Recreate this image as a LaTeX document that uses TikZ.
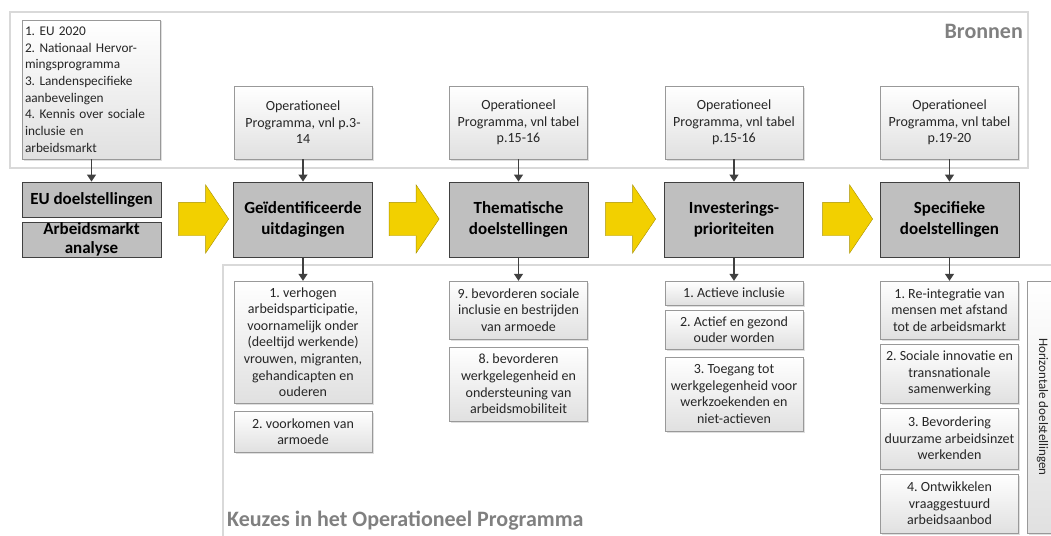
\documentclass[tikz,border=0pt]{standalone}
\usepackage{fontspec}
\setmainfont{Carlito}
\frenchspacing
\usetikzlibrary{arrows.meta,shapes.arrows,shadows}
\definecolor{pijlgeel}{HTML}{F2D000}
\definecolor{pijlrand}{HTML}{A89000}
\begin{document}
\begin{tikzpicture}[x=1pt,y=-1pt,
    bron/.style={draw=black!40, top color=white, bottom color=black!12,
      drop shadow={shadow xshift=1.5pt, shadow yshift=-1.5pt, opacity=.25},
      align=center, inner sep=0pt, minimum width=138pt, text=black!85,
      font=\fontsize{14}{16.6}\selectfont},
    hoofd/.style={draw=black!75, fill=black!25, line width=.8pt, align=center,
      inner sep=0pt, minimum width=139pt, font=\fontsize{17}{20.5}\selectfont\bfseries},
    pijl/.style={single arrow, draw=pijlrand, fill=pijlgeel, inner xsep=0pt, inner ysep=16.5pt,
      minimum height=50pt, single arrow head extend=17.5pt,
      single arrow tip angle=112},
    lijn/.style={draw=black!75, line width=1.2pt, -{Triangle[length=7pt,width=9pt]}},
    kader/.style={draw=black!15, line width=1.5pt},
    titel/.style={text=black!50, inner sep=0pt, font=\fontsize{22}{26}\selectfont\bfseries}]
  \useasboundingbox (0,0) rectangle (1051,535);
  \clip (0,0) rectangle (1051,535);

  % kaders
  \draw[kader] (10,12) rectangle (1028,168);
  \draw[kader] (223,265) rectangle (1070,550);
  \node[titel,anchor=east] (T0) at (1023,31) {Bronnen};
  \node[titel,anchor=west] (T1) at (227,521) {Keuzes in het Operationeel Programma};

  % bronnen
  \node[bron,align=left,text width=133pt,inner xsep=2.5pt,minimum height=139pt,
    font=\fontsize{13.3}{16.7}\selectfont] (S0) at (91.5,89.5)
    {1. EU 2020\\2. Nationaal Hervor-\\mingsprogramma\\3. Landenspecifieke\\aanbevelingen\\4. Kennis over sociale\\inclusie en\\arbeidsmarkt};
  \node[bron,minimum height=73pt] (S1) at (303,122.5) {Operationeel\\Programma, vnl p.3-\\14};
  \node[bron,minimum height=73pt] (S2) at (518.5,122.5) {Operationeel\\Programma, vnl tabel\\p.15-16};
  \node[bron,minimum height=73pt] (S3) at (734,122.5) {Operationeel\\Programma, vnl tabel\\p.15-16};
  \node[bron,minimum height=73pt] (S4) at (949.5,122.5) {Operationeel\\Programma, vnl tabel\\p.19-20};

  % hoofdlijn
  \node[hoofd,minimum height=35pt] (M0) at (91.5,199.5) {EU doelstellingen};
  \node[hoofd,minimum height=35pt,font=\fontsize{17}{18.5}\selectfont\bfseries] (M0b) at (91.5,239.5) {Arbeidsmarkt\\analyse};
  \node[hoofd,minimum height=75pt] (M1) at (303,219.5) {Geïdentificeerde\\uitdagingen};
  \node[hoofd,minimum height=75pt] (M2) at (518.5,219.5) {Thematische\\doelstellingen};
  \node[hoofd,minimum height=75pt] (M3) at (734,219.5) {Investerings-\\prioriteiten};
  \node[hoofd,minimum height=75pt] (M4) at (949.5,219.5) {Specifieke\\doelstellingen};

  \node[pijl] (P1) at (198,219) {};
  \node[pijl] (P2) at (408.5,219) {};
  \node[pijl] (P3) at (625,219) {};
  \node[pijl] (P4) at (842,219) {};

  % keuzes
  \node[bron,minimum height=122pt] (K1) at (303,342) {1. verhogen\\arbeidsparticipatie,\\voornamelijk onder\\(deeltijd werkende)\\vrouwen, migranten,\\gehandicapten en\\ouderen};
  \node[bron,minimum height=41pt] (K1b) at (303,431.5) {2. voorkomen van\\armoede};
  \node[bron,minimum height=58pt] (K2) at (518.5,310) {9. bevorderen sociale\\inclusie en bestrijden\\van armoede};
  \node[bron,minimum height=74pt] (K2b) at (518.5,384) {8. bevorderen\\werkgelegenheid en\\ondersteuning van\\arbeidsmobiliteit};
  \node[bron,minimum height=24pt] (K3) at (734,293) {1. Actieve inclusie};
  \node[bron,minimum height=39pt] (K3b) at (734,329.5) {2. Actief en gezond\\ouder worden};
  \node[bron,minimum height=74pt] (K3c) at (734,394) {3. Toegang tot\\werkgelegenheid voor\\werkzoekenden en\\niet-actieven};
  \node[bron,minimum height=58pt] (K4) at (949.5,310) {1. Re-integratie van\\mensen met afstand\\tot de arbeidsmarkt};
  \node[bron,minimum height=59pt] (K4b) at (949.5,373.5) {2. Sociale innovatie en\\transnationale\\samenwerking};
  \node[bron,minimum height=61pt] (K4c) at (949.5,438.5) {3. Bevordering\\duurzame arbeidsinzet\\werkenden};
  \node[bron,minimum height=59pt] (K4d) at (949.5,503.5) {4. Ontwikkelen\\vraaggestuurd\\arbeidsaanbod};
  \node[bron,rotate=-90,minimum width=252pt,minimum height=31pt,
    font=\fontsize{13}{15}\selectfont] (H) at (1042.5,407) {Horizontale doelstellingen};

  \draw[lijn] (S0) -- (M0);
  \draw[lijn] (S1) -- (M1);
  \draw[lijn] (S2) -- (M2);
  \draw[lijn] (S3) -- (M3);
  \draw[lijn] (S4) -- (M4);
  \draw[lijn] (M1) -- (K1);
  \draw[lijn] (M2) -- (K2);
  \draw[lijn] (M3) -- (K3);
  \draw[lijn] (M4) -- (K4);
\end{tikzpicture}
\end{document}
